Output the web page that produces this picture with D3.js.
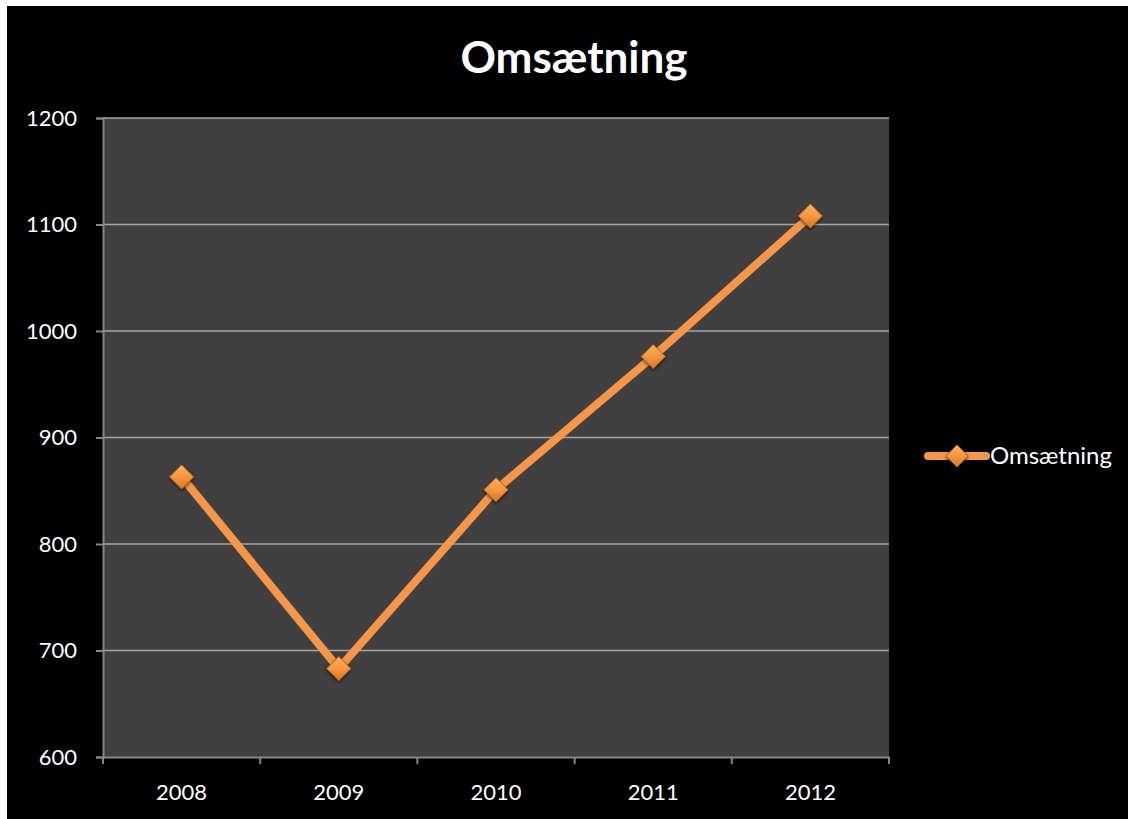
<!DOCTYPE html>
<html>
<head>
<meta charset="utf-8">
<script src="https://cdn.jsdelivr.net/npm/d3@7"></script>
<style>
  html, body { margin: 0; padding: 0; background: #ffffff; }
  svg { display: block; }
</style>
</head>
<body>
<script>
// Annual turnover
const years = ["2008", "2009", "2010", "2011", "2012"];
const omsaetning = [863, 683, 851, 976, 1108];
const yTicks = [600, 700, 800, 900, 1000, 1100, 1200];
const chartTitle = "Omsætning";
const seriesName = "Omsætning";

const W = 1128, H = 819;
const plot = { left: 103, right: 889, top: 118, bottom: 757 };
const font = "Lato, 'Open Sans', sans-serif";
const orange = "#f79646";

const svg = d3.select("body").append("svg").attr("width", W).attr("height", H);

// gradient for the diamond markers
const defs = svg.append("defs");
const grad = defs.append("linearGradient").attr("id", "mk").attr("x1", 0).attr("y1", 0).attr("x2", 0).attr("y2", 1);
grad.append("stop").attr("offset", "0%").attr("stop-color", "#ffb35c");
grad.append("stop").attr("offset", "50%").attr("stop-color", "#f7963f");
grad.append("stop").attr("offset", "100%").attr("stop-color", "#d9761e");
const shadow = defs.append("filter").attr("id", "sh").attr("x", "-50%").attr("y", "-50%").attr("width", "200%").attr("height", "200%");
shadow.append("feDropShadow").attr("dx", 0).attr("dy", 1.5).attr("stdDeviation", 1.5).attr("flood-color", "#000").attr("flood-opacity", 0.6);

// chart background
svg.append("rect").attr("x", 7).attr("y", 6).attr("width", W - 7).attr("height", H - 6).attr("fill", "#000");

const x = d3.scaleBand().domain(years).range([plot.left, plot.right]);
const y = d3.scaleLinear().domain([600, 1200]).range([plot.bottom, plot.top]);

// plot area
svg.append("rect")
  .attr("x", plot.left).attr("y", plot.top)
  .attr("width", plot.right - plot.left).attr("height", plot.bottom - plot.top)
  .attr("fill", "#404040");

// gridlines
svg.append("g").selectAll("line").data(yTicks.filter(d => d > 600)).join("line")
  .attr("x1", plot.left).attr("x2", plot.right)
  .attr("y1", d => y(d)).attr("y2", d => y(d))
  .attr("stroke", "#a6a6a6").attr("stroke-width", 1.5);

// y axis
const yAxis = svg.append("g").attr("transform", `translate(${plot.left},0)`)
  .call(d3.axisLeft(y).tickValues(yTicks).tickSize(7).tickPadding(19).tickFormat(d3.format("d")));
yAxis.select(".domain").attr("stroke", "#868686").attr("stroke-width", 2);
yAxis.selectAll(".tick line").attr("stroke", "#868686").attr("stroke-width", 2);
yAxis.selectAll("text").attr("fill", "#fff").style("font-family", font).style("font-size", "22px");

// x axis
const xAxis = svg.append("g").attr("transform", `translate(0,${plot.bottom})`)
  .call(d3.axisBottom(x).tickSize(0).tickPadding(27));
xAxis.select(".domain").attr("stroke", "#868686").attr("stroke-width", 2);
xAxis.selectAll(".tick line").remove();
xAxis.selectAll("text").attr("fill", "#fff").style("font-family", font).style("font-size", "22px");
// category boundary ticks
const bounds = years.map(d => x(d)).concat([plot.right]);
xAxis.append("g").selectAll("line").data(bounds).join("line")
  .attr("x1", d => d).attr("x2", d => d).attr("y1", 0).attr("y2", 7)
  .attr("stroke", "#868686").attr("stroke-width", 2);

// series line
const cx = d => x(d) + x.bandwidth() / 2;
const line = d3.line().x((d, i) => cx(years[i])).y(d => y(d));
svg.append("path").datum(omsaetning)
  .attr("d", line).attr("fill", "none")
  .attr("stroke", orange).attr("stroke-width", 8)
  .attr("stroke-linejoin", "round").attr("stroke-linecap", "round");

// diamond markers
const diamond = s => `M0,${-s}L${s},0L0,${s}L${-s},0Z`;
svg.append("g").selectAll("path").data(omsaetning).join("path")
  .attr("transform", (d, i) => `translate(${cx(years[i])},${y(d)})`)
  .attr("d", diamond(12))
  .attr("fill", "url(#mk)").attr("stroke", "#b8651f").attr("stroke-width", 1)
  .attr("filter", "url(#sh)");

// title
svg.append("text").attr("x", 574).attr("y", 73).attr("text-anchor", "middle")
  .attr("fill", "#fff").style("font-family", font).style("font-weight", "bold").style("font-size", "44px")
  .text(chartTitle);

// legend
const lg = svg.append("g").attr("transform", "translate(928,456)");
lg.append("line").attr("x1", 0).attr("x2", 58).attr("y1", 0).attr("y2", 0)
  .attr("stroke", orange).attr("stroke-width", 8).attr("stroke-linecap", "round");
lg.append("path").attr("transform", "translate(29,0)").attr("d", diamond(11))
  .attr("fill", "url(#mk)").attr("stroke", "#b8651f").attr("stroke-width", 1).attr("filter", "url(#sh)");
lg.append("text").attr("x", 62).attr("y", 8).attr("fill", "#fff")
  .style("font-family", font).style("font-size", "24px").text(seriesName);
</script>
</body>
</html>
